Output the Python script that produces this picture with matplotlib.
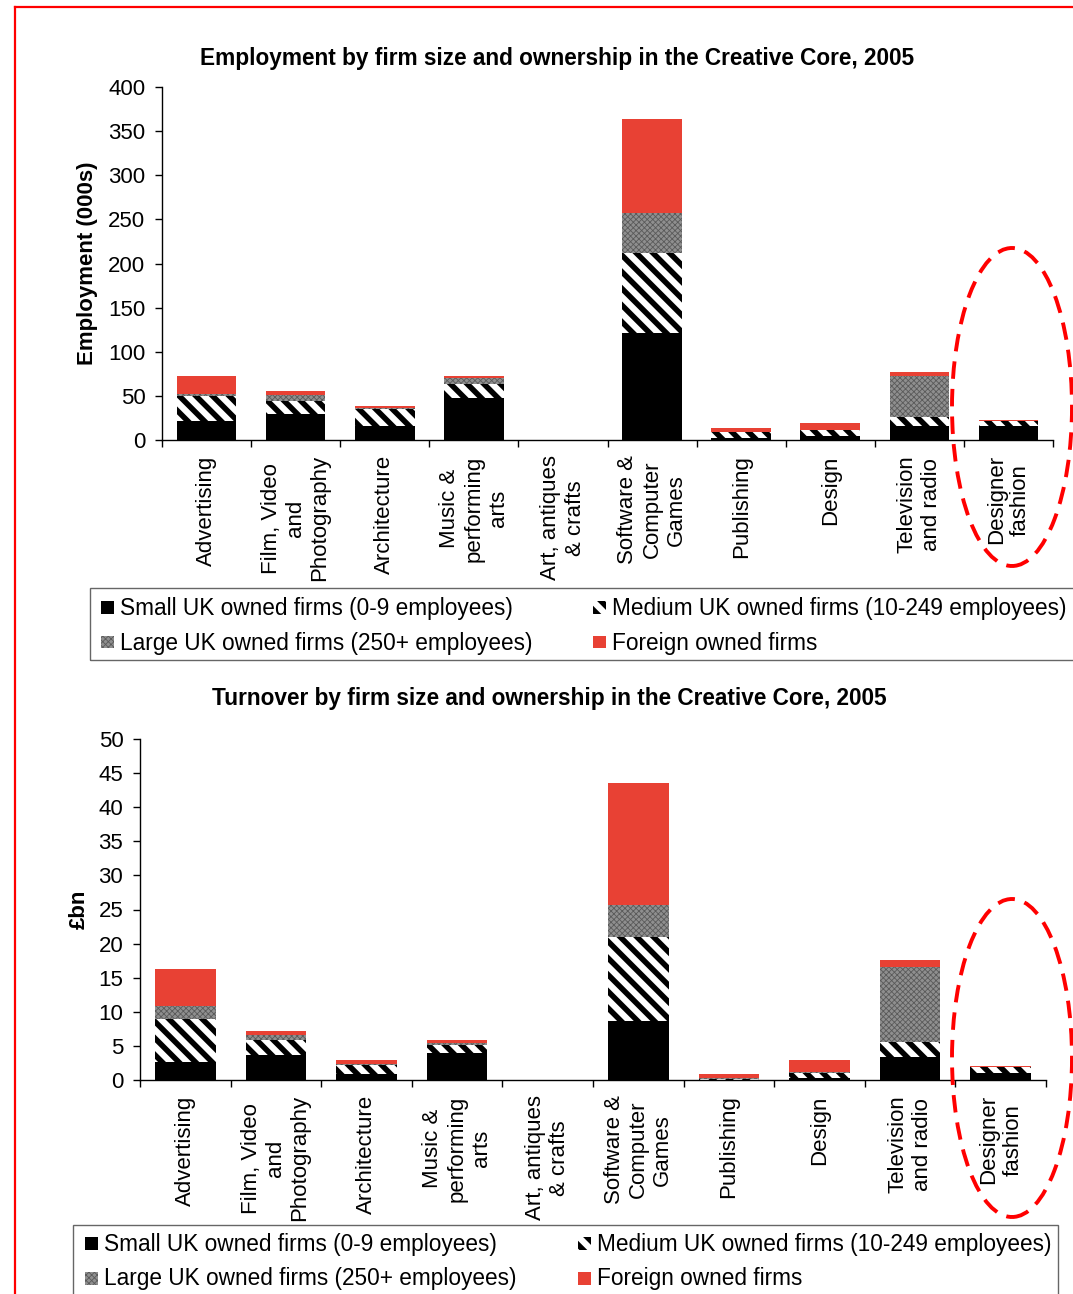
import matplotlib
matplotlib.use("Agg")
import matplotlib.pyplot as plt
from matplotlib.patches import Rectangle, Ellipse
from matplotlib.lines import Line2D
import numpy as np

plt.rcParams['font.family'] = ['Liberation Sans', 'DejaVu Sans']
plt.rcParams['hatch.linewidth'] = 4.0

# ---- data ----
categories = ["Advertising", "Film, Video\nand\nPhotography", "Architecture",
              "Music &\nperforming\narts", "Art, antiques\n& crafts",
              "Software &\nComputer\nGames", "Publishing", "Design",
              "Television\nand radio", "Designer\nfashion"]

emp_small = [22, 29.5, 16, 47.5, 0, 121, 2, 5, 16, 16]
emp_medium = [28, 15, 19.5, 15.5, 0, 91, 6.5, 6, 10.5, 5]
emp_large = [2, 7, 1, 7, 0, 45, 0.6, 0.5, 46.5, 0.5]
emp_foreign = [20, 4, 2, 3, 0, 107, 4.5, 8, 4, 1]

to_small = [2.6, 3.7, 0.9, 4.0, 0, 8.65, 0.05, 0.35, 3.4, 1.07]
to_medium = [6.4, 2.2, 1.35, 1.2, 0, 12.35, 0.1, 0.7, 2.2, 0.85]
to_large = [1.9, 0.65, 0.15, 0.25, 0, 4.6, 0.1, 0.08, 11.0, 0.05]
to_foreign = [5.4, 0.65, 0.5, 0.35, 0, 17.9, 0.63, 1.8, 1.0, 0.15]

series_labels = ["Small UK owned firms (0-9 employees)",
                 "Medium UK owned firms (10-249 employees)",
                 "Large UK owned firms (250+ employees)",
                 "Foreign owned firms"]

emp_ticks = list(range(0, 401, 50))
to_ticks = list(range(0, 51, 5))

RED = '#e84134'
GRAY = '#8f8f8f'
STRIPES = '\\\\'

W, H = 1073, 1294
fig = plt.figure(figsize=(W / 100, H / 100), dpi=100)

HAS_HLW = hasattr(Rectangle((0, 0), 1, 1), 'set_hatch_linewidth')


def fx(px):
    return px / W


def fy(py):
    return 1 - py / H


def texture_gray(patches):
    # fine dotted texture on the large-firm segments
    if HAS_HLW:
        for p in patches:
            p.set_hatch('xxxxxx')
            p.set_edgecolor('#5a5a5a')
            p.set_hatch_linewidth(0.6)


def stacked(ax, small, medium, large, foreign, ymax, ticks):
    x = np.arange(len(categories))
    small = np.array(small)
    medium = np.array(medium)
    large = np.array(large)
    foreign = np.array(foreign)
    bw = 0.67
    ax.bar(x, small, width=bw, color='black', linewidth=0)
    ax.bar(x, medium, bottom=small, width=bw, facecolor='white',
           edgecolor='black', hatch=STRIPES, linewidth=0)
    gb = ax.bar(x, large, bottom=small + medium, width=bw, facecolor=GRAY,
                edgecolor=GRAY, linewidth=0)
    texture_gray(gb.patches)
    ax.bar(x, foreign, bottom=small + medium + large, width=bw, color=RED,
           linewidth=0)
    ax.set_xlim(-0.5, len(categories) - 0.5)
    ax.set_ylim(0, ymax)
    ax.set_yticks(ticks)
    ax.tick_params(axis='y', labelsize=16, length=5, pad=7, width=1)
    ax.set_xticks(np.arange(-0.5, len(categories)), labels=[])
    ax.tick_params(axis='x', which='major', length=5, width=1)
    ax.set_xticks(x, labels=categories, minor=True)
    ax.tick_params(axis='x', which='minor', length=0, pad=11, labelsize=16,
                   labelrotation=90)
    for lab in ax.get_xticklabels(minor=True):
        lab.set_va('top')
        lab.set_ha('center')
        lab.set_multialignment('center')
    for s in ('top', 'right'):
        ax.spines[s].set_visible(False)
    for s in ('left', 'bottom'):
        ax.spines[s].set_linewidth(1)


# ---- top chart: employment ----
ax1 = fig.add_axes([fx(162), fy(440), (1053 - 162) / W, (440 - 87) / H])
stacked(ax1, emp_small, emp_medium, emp_large, emp_foreign, 400, emp_ticks)
ax1.set_ylabel("Employment (000s)", fontsize=16, fontweight='bold')
ax1.yaxis.set_label_coords(-0.072, 0.5)
fig.text(fx(557), fy(59),
         "Employment by firm size and ownership in the Creative Core, 2005",
         ha='center', va='center', fontsize=16.3, fontweight='bold')

# ---- bottom chart: turnover ----
ax2 = fig.add_axes([fx(140), fy(1080), (1046 - 140) / W, (1080 - 739) / H])
stacked(ax2, to_small, to_medium, to_large, to_foreign, 50, to_ticks)
ax2.set_ylabel("£bn", fontsize=16, fontweight='bold')
ax2.yaxis.set_label_coords(-0.056, 0.5)
fig.text(fx(549), fy(698),
         "Turnover by firm size and ownership in the Creative Core, 2005",
         ha='center', va='center', fontsize=16.3, fontweight='bold')


# ---- legends drawn as framed boxes below each chart ----
def legend_box(x0, y0, x1, y1, col_x, row_y):
    fig.patches.append(Rectangle((fx(x0), fy(y1)), (x1 - x0) / W,
                                 (y1 - y0) / H, transform=fig.transFigure,
                                 facecolor='none', edgecolor='#666666',
                                 linewidth=1))
    styles = [dict(facecolor='black', edgecolor='black', linewidth=0),
              dict(facecolor='white', edgecolor='black', hatch=STRIPES,
                   linewidth=0),
              dict(facecolor=GRAY, edgecolor=GRAY, linewidth=0),
              dict(facecolor=RED, edgecolor=RED, linewidth=0)]
    pos = [(0, 0), (1, 0), (0, 1), (1, 1)]
    sq = 13
    for i, (lab, st, (c, r)) in enumerate(zip(series_labels, styles, pos)):
        mx = col_x[c]
        my = row_y[r]
        p = Rectangle((fx(mx), fy(my + sq / 2)), sq / W, sq / H,
                      transform=fig.transFigure, **st)
        if i == 2:
            texture_gray([p])
        fig.patches.append(p)
        fig.text(fx(mx + sq + 6), fy(my + 1), lab, ha='left', va='center',
                 fontsize=16.3)


legend_box(90, 588, 1085, 660, [101, 593], [607, 642])
legend_box(73, 1225, 1058, 1305, [85, 578], [1243, 1278])

# ---- highlight rings around Designer fashion ----
for cy in (407, 1058):
    fig.patches.append(Ellipse((fx(1012), fy(cy)), 120 / W, 318 / H,
                               transform=fig.transFigure, facecolor='none',
                               edgecolor='#ff0000', linewidth=2.8,
                               linestyle=(0, (4.5, 2.6)), clip_on=False))

# ---- outer frame ----
fig.lines.append(Line2D([fx(15), fx(15)], [fy(1300), fy(7)],
                        transform=fig.transFigure, color='#ff0000',
                        linewidth=1.6))
fig.lines.append(Line2D([fx(15), fx(1080)], [fy(7), fy(7)],
                        transform=fig.transFigure, color='#ff0000',
                        linewidth=1.6))

fig.savefig("out.png", dpi=100)
